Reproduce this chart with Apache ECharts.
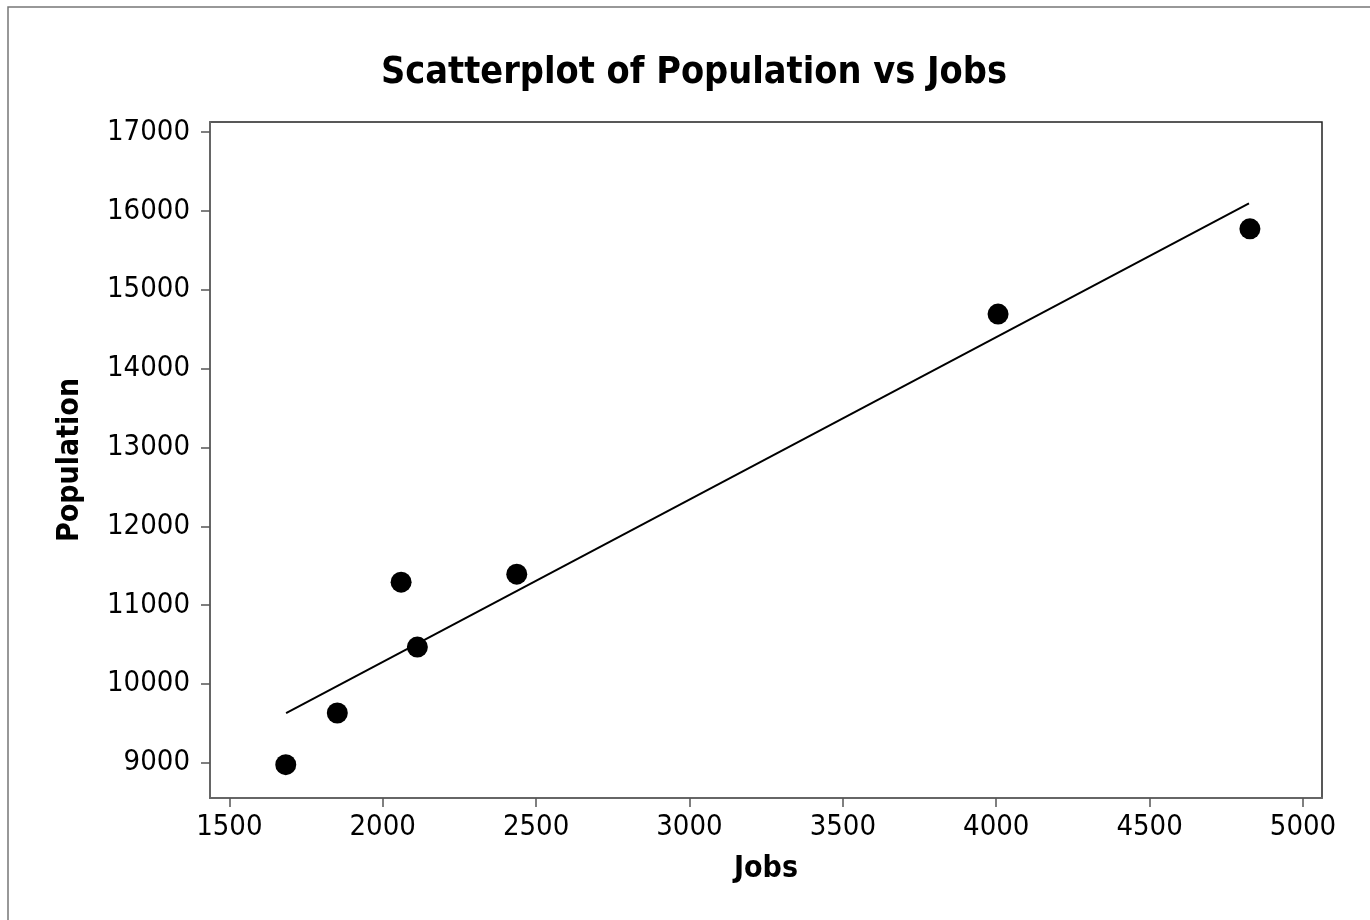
<!DOCTYPE html>
<html>
<head>
<meta charset="utf-8">
<title>Scatterplot of Population vs Jobs</title>
<script src="https://cdn.jsdelivr.net/npm/echarts@6/dist/echarts.min.js"></script>
<style>
  html, body { margin: 0; padding: 0; background: #fff; }
  #chart { width: 1370px; height: 920px; }
</style>
</head>
<body>
<div id="chart"></div>
<script>
// observed points (Jobs, Population)
const jobs = [1684, 1852, 2060, 2113, 2437, 4006, 4827];
const population = [8975, 9630, 11291, 10467, 11392, 14693, 15774];

// fitted line end points
const fitJobs = [1685, 4824];
const fitPopulation = [9630, 16096];

const xTicks = [1500, 2000, 2500, 3000, 3500, 4000, 4500, 5000];
const yTicks = [9000, 10000, 11000, 12000, 13000, 14000, 15000, 16000, 17000];

const font = "DejaVu Sans Condensed";

const chart = echarts.init(document.getElementById("chart"));

const option = {
  backgroundColor: "#fff",
  animation: false,
  title: {
    text: "Scatterplot of Population vs Jobs",
    left: 376,
    top: 49,
    textStyle: { fontFamily: font, fontWeight: "bold", fontSize: 37.5, color: "#000" },
  },
  graphic: [
    {
      type: "rect",
      shape: { x: 8, y: 7, width: 1400, height: 960 },
      style: { fill: "none", stroke: "#777", lineWidth: 1.5 },
      silent: true,
    },
  ],
  grid: {
    left: 210,
    top: 122,
    right: 48,
    bottom: 122,
    show: true,
    borderColor: "#222",
    borderWidth: 1.5,
  },
  xAxis: {
    type: "value",
    min: 1437,
    max: 5062,
    name: "Jobs",
    nameLocation: "middle",
    nameGap: 56,
    nameTextStyle: { fontFamily: font, fontWeight: "bold", fontSize: 30, color: "#000" },
    splitLine: { show: false },
    axisLine: { lineStyle: { color: "#666", width: 2 } },
    axisTick: { show: true, inside: false, length: 9, customValues: xTicks, lineStyle: { color: "#555", width: 1.5 } },
    axisLabel: {
      customValues: xTicks,
      margin: 15,
      fontFamily: font,
      fontSize: 29,
      color: "#000",
      formatter: (v) => String(v),
    },
  },
  yAxis: {
    type: "value",
    min: 8552,
    max: 17130,
    name: "Population",
    nameLocation: "middle",
    nameGap: 125,
    nameTextStyle: { fontFamily: font, fontWeight: "bold", fontSize: 30, color: "#000" },
    splitLine: { show: false },
    axisLine: { show: true, lineStyle: { color: "#666", width: 2 } },
    axisTick: { show: true, inside: false, length: 9, customValues: yTicks, lineStyle: { color: "#555", width: 1.5 } },
    axisLabel: {
      customValues: yTicks,
      margin: 20,
      fontFamily: font,
      fontSize: 29,
      color: "#000",
      formatter: (v) => String(v),
    },
  },
  series: [
    {
      name: "Fit",
      type: "line",
      data: fitJobs.map((x, i) => [x, fitPopulation[i]]),
      symbol: "none",
      lineStyle: { color: "#000", width: 2 },
      silent: true,
    },
    {
      name: "Population",
      type: "scatter",
      data: jobs.map((x, i) => [x, population[i]]),
      symbol: "circle",
      symbolSize: 21,
      itemStyle: { color: "#000", opacity: 1 },
    },
  ],
};

chart.setOption(option);

window.addEventListener("resize", () => {
  chart.resize();
});
</script>
</body>
</html>
